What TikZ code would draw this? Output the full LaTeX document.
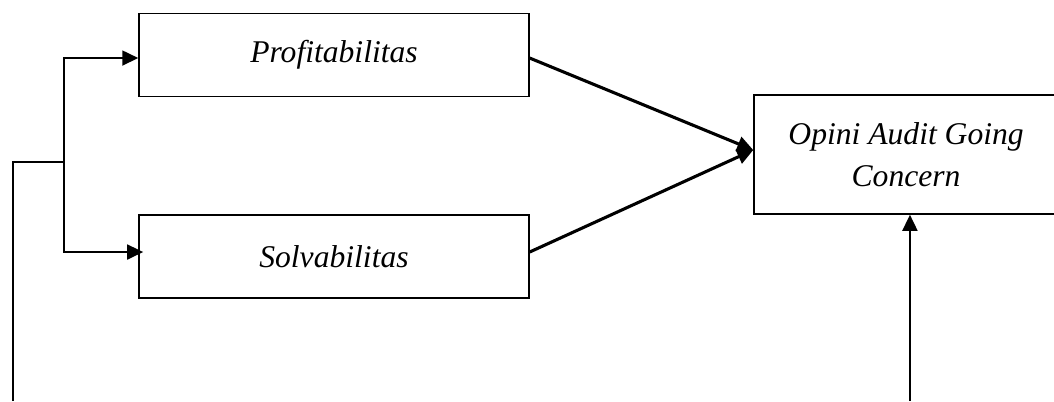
\documentclass[tikz,border=0pt]{standalone}
\usepackage{fontspec}
\setmainfont{Liberation Serif}
\usepackage{tikz}
\usetikzlibrary{arrows.meta, positioning, calc}
\tikzset{
    varbox/.style={rectangle, draw, line width=0.55pt, minimum width=5.55cm, minimum height=1.18cm, font=\fontsize{12.8}{17}\selectfont\itshape},
    arrow/.style={-{Triangle[length=6.5pt, width=6pt]}, line width=0.95pt},
    link/.style={line width=0.95pt}
}

\begin{document}
\begin{tikzpicture}
    \useasboundingbox (0,0) rectangle (15,5.707);

    \node[varbox] (profit) at (4.753, 4.924) {Profitabilitas};
    \node[varbox] (solv) at (4.753, 2.056) {Solvabilitas};
    \node[varbox, minimum width=4.33cm, minimum height=1.694cm, align=center] (opini) at (12.895, 3.508) {Opini Audit Going\\Concern};

    \coordinate (src) at (0.185, 0);
    \coordinate (fork) at (0.911, 3.401);
    \coordinate (ext) at (12.950, 0);
    \coordinate (join) at ([yshift=0.064cm]opini.west);

    \draw[link] (src) |- (fork);
    \draw[arrow] (fork) |- ([yshift=-0.043cm]profit.west);
    \draw[arrow] (fork) |- ([xshift=0.07cm, yshift=0.064cm]solv.west);
    \draw[arrow, line width=1.25pt] ([yshift=-0.043cm]profit.east) -- (join);
    \draw[arrow, line width=1.25pt] ([yshift=0.064cm]solv.east) -- (join);
    \draw[arrow] (ext) -- (ext |- opini.south);
\end{tikzpicture}
\end{document}
